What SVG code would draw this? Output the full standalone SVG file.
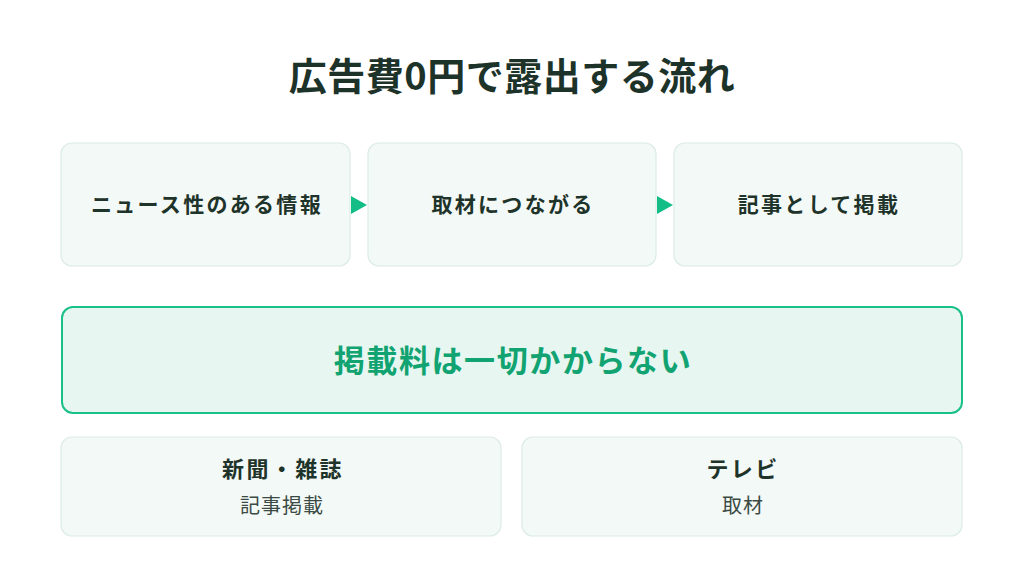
<svg xmlns="http://www.w3.org/2000/svg" width="1024" height="573" viewBox="0 0 1024 573">
<style>
text{font-family:"Noto Sans CJK JP","Noto Sans CJK SC",sans-serif;text-anchor:middle;dominant-baseline:central}
.card{fill:#f3f9f6;stroke:#dcece5;stroke-width:1.2}
.lbl{font-size:21px;font-weight:700;fill:#1e3329;letter-spacing:2.3px}
.ttl{font-size:22px;font-weight:700;fill:#1e3329;letter-spacing:2.4px}
.sub{font-size:20px;font-weight:400;fill:#3b4a44;letter-spacing:1px}
.arr{fill:#12bd86}
</style>
<rect width="1024" height="573" fill="#ffffff"/>
<text x="512" y="73" font-size="38" font-weight="700" fill="#1d3329" letter-spacing="0.5">広告費0円で露出する流れ</text>
<g id="node-news"><rect class="card" x="61" y="143" width="289" height="123" rx="11"/><text class="lbl" x="207" y="203">ニュース性のある情報</text></g>
<g id="node-interview"><rect class="card" x="368" y="143" width="288" height="123" rx="11"/><text class="lbl" x="513" y="203">取材につながる</text></g>
<g id="node-article"><rect class="card" x="674" y="143" width="288" height="123" rx="11"/><text class="lbl" x="819" y="203">記事として掲載</text></g>
<g id="connectors">
<polygon class="arr" points="351,196 367,205 351,214"/>
<polygon class="arr" points="657,196 673,205 657,214"/>
</g>
<g id="node-free"><rect x="62" y="307" width="900" height="106" rx="11" fill="#e7f6f0" stroke="#18c08a" stroke-width="2"/><text x="513" y="358" font-size="31" font-weight="700" fill="#11a371" letter-spacing="1.6">掲載料は一切かからない</text></g>
<g id="node-paper"><rect class="card" x="61" y="437" width="440" height="99" rx="11"/><text class="ttl" x="283" y="467">新聞・雑誌</text><text class="sub" x="282" y="504">記事掲載</text></g>
<g id="node-tv"><rect class="card" x="522" y="437" width="440" height="99" rx="11"/><text class="ttl" x="743" y="467">テレビ</text><text class="sub" x="743" y="504">取材</text></g>
</svg>
